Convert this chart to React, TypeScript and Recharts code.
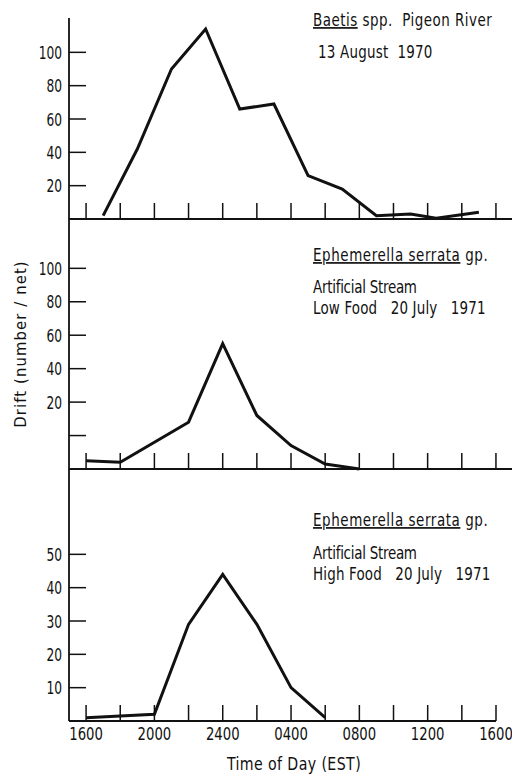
import React from 'react';
import { LineChart, Line, XAxis, YAxis } from 'recharts';

const FONT = "'DejaVu Sans Condensed', 'Liberation Sans Narrow', 'Arial Narrow', sans-serif";
const INK = '#111';

// x values are hours after 1600 EST
const xTickHours = [0, 2, 4, 6, 8, 10, 12, 14, 16, 18, 20, 22, 24];
const xLabelHours = [0, 4, 8, 12, 16, 20, 24];
const xTickLabels = ['1600', '2000', '2400', '0400', '0800', '1200', '1600'];

const baetisHours = [1, 3, 5, 7, 9, 11, 13, 15, 17, 19, 20.5, 23];
const baetisDrift = [2, 42, 90, 114, 66, 69, 26, 18, 2, 3, 0.5, 4];

const lowFoodHours = [0, 2, 4, 6, 8, 10, 12, 14, 16];
const lowFoodDrift = [-15, -16, -4, 8, 55, 12, -6, -17, -20];

const highFoodHours = [0, 2, 4, 6, 8, 10, 12, 14];
const highFoodDrift = [1, 1.5, 2, 29, 44, 29, 10, 1];

const baetisTicks = [20, 40, 60, 80, 100];
const lowFoodTicks = [0, 20, 40, 60, 80, 100];
const highFoodTicks = [10, 20, 30, 40, 50];

const toRows = (hs: number[], vs: number[]) => hs.map((h, i) => ({ hour: h, drift: vs[i] }));
const baetisData = toRows(baetisHours, baetisDrift);
const lowFoodData = toRows(lowFoodHours, lowFoodDrift);
const highFoodData = toRows(highFoodHours, highFoodDrift);

const textStyle: React.CSSProperties = { whiteSpace: 'pre' };

// narrow, tall lettering like the original typesetting
function NarrowText(props: any) {
  const { x, y, sx = 0.88, children, ...rest } = props;
  return (
    <text transform={`translate(${x},${y}) scale(${sx},1)`} x={0} y={0} fontFamily={FONT} fill={INK} style={textStyle} {...rest}>
      {children}
    </text>
  );
}

function XTick(props: any) {
  const { x, y, payload, showLabel } = props;
  const i = xLabelHours.indexOf(payload.value);
  return (
    <g>
      <line x1={x} x2={x} y1={y} y2={y - 16} stroke={INK} strokeWidth={1.5} />
      {showLabel && i >= 0 ? (
        <NarrowText x={x} y={y + 19} sx={0.84} textAnchor="middle" fontSize={17.5}>
          {xTickLabels[i]}
        </NarrowText>
      ) : null}
    </g>
  );
}

function YTick(props: any) {
  const { x, y, payload } = props;
  const label = payload.value === 0 ? '' : String(payload.value);
  return (
    <g>
      <line x1={x} x2={x + 17} y1={y} y2={y} stroke={INK} strokeWidth={1.5} />
      <NarrowText x={x - 7} y={y + 6.5} sx={0.8} textAnchor="end" fontSize={17}>
        {label}
      </NarrowText>
    </g>
  );
}

export default function App() {
  return (
    <div style={{ position: 'absolute', left: 0, top: 0, width: 512, height: 775, background: '#fff', overflow: 'hidden' }}>
      <div style={{ position: 'absolute', left: 0, top: 0 }}>
        <LineChart width={512} height={240} data={baetisData} margin={{ top: 18, right: 0, bottom: 0, left: 0 }}>
          <XAxis dataKey="hour" type="number" domain={[-1, 24.94]} ticks={xTickHours} height={21}
            tickSize={0} tickMargin={0} tickLine={false} axisLine={{ stroke: INK, strokeWidth: 2 }}
            tick={(p: any) => <XTick {...p} showLabel={false} />} interval={0} />
          <YAxis type="number" domain={[0, 120.6]} ticks={baetisTicks} width={69} tickSize={0} tickMargin={0}
            tickLine={false} axisLine={{ stroke: INK, strokeWidth: 1.8 }} tick={(p: any) => <YTick {...p} />} interval={0} />
          <Line dataKey="drift" type="linear" stroke={INK} strokeWidth={3} dot={false} isAnimationActive={false} />
          <NarrowText x={313} y={26} fontSize={17} letterSpacing={0.55}><tspan textDecoration="underline">Baetis</tspan>{' spp.  Pigeon River'}</NarrowText>
          <NarrowText x={318} y={58} fontSize={17} letterSpacing={0.25}>{'13 August  1970'}</NarrowText>
        </LineChart>
      </div>
      <div style={{ position: 'absolute', left: 0, top: 200 }}>
        <LineChart width={512} height={290} data={lowFoodData} margin={{ top: 19, right: 0, bottom: 0, left: 0 }}>
          <XAxis dataKey="hour" type="number" domain={[-1, 24.94]} ticks={xTickHours} height={21}
            tickSize={0} tickMargin={0} tickLine={false} axisLine={{ stroke: INK, strokeWidth: 2 }}
            tick={(p: any) => <XTick {...p} showLabel={false} />} interval={0} />
          <YAxis type="number" domain={[-20, 129.5]} ticks={lowFoodTicks} width={69} tickSize={0} tickMargin={0}
            tickLine={false} axisLine={{ stroke: INK, strokeWidth: 1.8 }} tick={(p: any) => <YTick {...p} />} interval={0}
            label={{ value: 'Drift (number / net)', angle: -90, position: 'insideLeft', offset: 20,
              style: { textAnchor: 'middle', fontFamily: FONT, fontSize: 16.5, fill: INK, letterSpacing: 1.1 } }} />
          <Line dataKey="drift" type="linear" stroke={INK} strokeWidth={3} dot={false} isAnimationActive={false} />
          <NarrowText x={313} y={61} fontSize={17} letterSpacing={0.65}><tspan textDecoration="underline">Ephemerella serrata</tspan>{' gp.'}</NarrowText>
          <NarrowText x={313} y={93} fontSize={17} letterSpacing={-0.3}>{'Artificial Stream'}</NarrowText>
          <NarrowText x={313} y={114} fontSize={17} letterSpacing={0.2}>{'Low Food   20 July   1971'}</NarrowText>
        </LineChart>
      </div>
      <div style={{ position: 'absolute', left: 0, top: 450 }}>
        <LineChart width={512} height={325} data={highFoodData} margin={{ top: 19, right: 16, bottom: 0, left: 0 }}>
          <XAxis dataKey="hour" type="number" domain={[-1, 24]} ticks={xTickHours} height={54}
            tickSize={0} tickMargin={0} tickLine={false} axisLine={{ stroke: INK, strokeWidth: 2 }}
            tick={(p: any) => <XTick {...p} showLabel={true} />} interval={0} />
          <YAxis type="number" domain={[0, 75.6]} ticks={highFoodTicks} width={69} tickSize={0} tickMargin={0}
            tickLine={false} axisLine={{ stroke: INK, strokeWidth: 1.8 }} tick={(p: any) => <YTick {...p} />} interval={0} />
          <Line dataKey="drift" type="linear" stroke={INK} strokeWidth={3} dot={false} isAnimationActive={false} />
          <NarrowText x={313} y={76} fontSize={17} letterSpacing={0.65}><tspan textDecoration="underline">Ephemerella serrata</tspan>{' gp.'}</NarrowText>
          <NarrowText x={313} y={109} fontSize={17} letterSpacing={-0.3}>{'Artificial Stream'}</NarrowText>
          <NarrowText x={313} y={130} fontSize={17} letterSpacing={0.2}>{'High Food   20 July   1971'}</NarrowText>
          <NarrowText x={294} y={320} sx={0.9} textAnchor="middle" fontSize={17.5} letterSpacing={0.45}>
            {'Time of Day (EST)'}
          </NarrowText>
        </LineChart>
      </div>
    </div>
  );
}
